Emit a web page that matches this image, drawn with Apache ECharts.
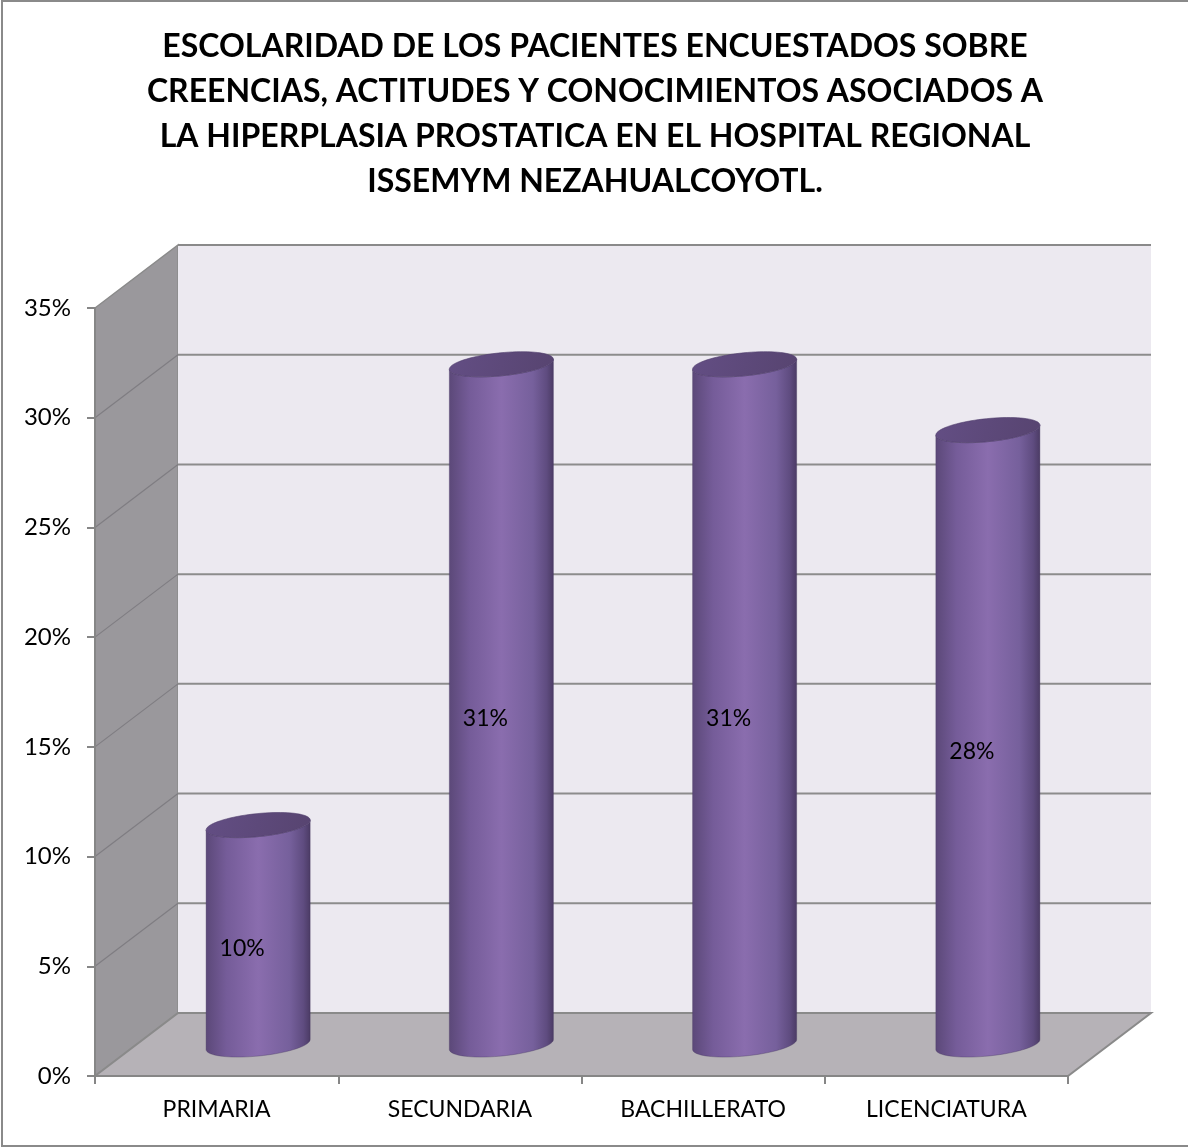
<!DOCTYPE html>
<html>
<head>
<meta charset="utf-8">
<script src="https://cdn.jsdelivr.net/npm/echarts@6/dist/echarts.min.js"></script>
<style>
  html, body { margin: 0; padding: 0; background: #ffffff; }
  #chart { width: 1188px; height: 1148px; }
</style>
</head>
<body>
<div id="chart"></div>
<script>
// ---- data ----
const titleLines = [
  'ESCOLARIDAD DE LOS PACIENTES ENCUESTADOS SOBRE',
  'CREENCIAS, ACTITUDES Y CONOCIMIENTOS ASOCIADOS A',
  'LA HIPERPLASIA PROSTATICA EN EL HOSPITAL REGIONAL',
  'ISSEMYM NEZAHUALCOYOTL.'
];
const categories = ['PRIMARIA', 'SECUNDARIA', 'BACHILLERATO', 'LICENCIATURA'];
const values = [0.10, 0.31, 0.31, 0.28];
const valueLabels = ['10%', '31%', '31%', '28%'];
const yTicks = [0, 0.05, 0.10, 0.15, 0.20, 0.25, 0.30, 0.35];

// ---- style ----
const FONT = 'Lato';
const DX = 83, DY = -63;           // 3D depth offset
const SIDE = '#9a989c', BACK = '#ece9f0', FLOOR = '#b6b2b7', EDGE = '#8a8a8a';

const chart = echarts.init(document.getElementById('chart'), null, { renderer: 'canvas' });

function renderWalls(params, api) {
  const cs = params.coordSys;
  const x0 = cs.x, x1 = cs.x + cs.width;
  const yBase = api.coord([0, 0])[1];
  const yTop = api.coord([0, yTicks[yTicks.length - 1]])[1];
  const children = [];
  children.push({ type: 'polygon', shape: { points: [[x0, yBase], [x0, yTop], [x0 + DX, yTop + DY], [x0 + DX, yBase + DY]] },
    style: { fill: SIDE, stroke: EDGE, lineWidth: 1.5 } });
  children.push({ type: 'rect', shape: { x: x0 + DX, y: yTop + DY, width: x1 - x0, height: yBase - yTop },
    style: { fill: BACK, stroke: null } });
  children.push({ type: 'line', shape: { x1: x0 + DX, y1: yTop + DY, x2: x1 + DX, y2: yTop + DY },
    style: { stroke: EDGE, lineWidth: 2 } });
  children.push({ type: 'polygon', shape: { points: [[x0, yBase], [x1, yBase], [x1 + DX, yBase + DY], [x0 + DX, yBase + DY]] },
    style: { fill: FLOOR, stroke: EDGE, lineWidth: 2 } });
  yTicks.forEach(function (v) {
    if (v === 0 || v === yTicks[yTicks.length - 1]) return;
    const y = api.coord([0, v])[1];
    children.push({ type: 'line', shape: { x1: x0, y1: y, x2: x0 + DX, y2: y + DY }, style: { stroke: '#7f7d82', lineWidth: 1.2 } });
    children.push({ type: 'line', shape: { x1: x0 + DX, y1: y + DY, x2: x1 + DX, y2: y + DY }, style: { stroke: '#8c8c8c', lineWidth: 2 } });
  });
  return { type: 'group', children: children };
}

function ellipsePts(cx, cy, rx, ry, th, t0, t1, n) {
  const pts = [];
  for (let k = 0; k <= n; k++) {
    const t = t0 + (t1 - t0) * k / n;
    const u = rx * Math.cos(t), v = ry * Math.sin(t);
    pts.push([cx + u * Math.cos(th) + v * Math.sin(th), cy - u * Math.sin(th) + v * Math.cos(th)]);
  }
  return pts;
}

function renderCylinder(params, api) {
  const idx = api.value(0);
  const val = api.value(1);
  const base = api.coord([idx, 0]);
  const top = api.coord([idx, val]);
  const bw = api.size([1, 0])[0] * 0.43;
  const cx = base[0] + DX / 2;
  const yb = base[1] + DY / 2;
  const yt = top[1] + DY / 2;
  const rx = bw / 2, ry = 11.5, th = 0.1;
  const bodyGrad = new echarts.graphic.LinearGradient(0, 0, 1, 0, [
    { offset: 0, color: '#5b4878' },
    { offset: 0.2, color: '#755c99' },
    { offset: 0.5, color: '#8a6dae' },
    { offset: 0.8, color: '#76609c' },
    { offset: 0.93, color: '#5f4c80' },
    { offset: 1, color: '#4a3a63' }
  ]);
  const bottomArc = ellipsePts(cx, yb, rx, ry, th, 0, Math.PI, 40);
  const topArc = ellipsePts(cx, yt, rx, ry, th, Math.PI, 0, 40);
  const bodyPts = bottomArc.concat(topArc);
  const topPts = ellipsePts(cx, yt, rx, ry, th, 0, 2 * Math.PI, 80);
  return {
    type: 'group',
    children: [
      { type: 'polygon', shape: { points: bodyPts }, style: { fill: bodyGrad, stroke: 'rgba(70,55,95,0.35)', lineWidth: 1 } },
      { type: 'polygon', shape: { points: topPts }, style: { fill: new echarts.graphic.LinearGradient(0, 0, 1, 1, [
          { offset: 0, color: '#634e84' }, { offset: 1, color: '#574470' }]), stroke: 'rgba(80,62,108,0.6)', lineWidth: 1 } },
      { type: 'text', style: { text: valueLabels[idx], x: cx - 16, y: (yb + yt) / 2 + 14, align: 'center', verticalAlign: 'middle',
        fontFamily: FONT, fontSize: 23, fill: '#000000' } }
    ]
  };
}

const titleGraphics = titleLines.map(function (line, i) {
  return { type: 'text', x: 595, y: 47 + i * 45, z: 50,
    style: { text: line, x: 0, y: 0, align: 'center', verticalAlign: 'middle', fontFamily: FONT, fontWeight: 'bold', fontSize: 32, fill: '#000000' } };
});

const option = {
  animation: false,
  backgroundColor: '#ffffff',
  graphic: [
    { type: 'rect', shape: { x: 2, y: 1, width: 1200, height: 1145 }, style: { fill: null, stroke: '#8a8a8a', lineWidth: 2 }, z: 100 }
  ].concat(titleGraphics),
  grid: { left: 95, right: 120, top: 308, bottom: 72, containLabel: false },
  xAxis: {
    type: 'category',
    data: categories,
    axisLine: { show: true, lineStyle: { color: '#868686', width: 2 } },
    axisTick: { show: true, length: 8, lineStyle: { color: '#868686', width: 2 } },
    axisLabel: { fontFamily: FONT, fontSize: 23, color: '#000000', margin: 22 },
    z: 10
  },
  yAxis: {
    type: 'value',
    min: 0, max: 0.35, interval: 0.05,
    axisLine: { show: true, lineStyle: { color: '#868686', width: 2 } },
    axisTick: { show: true, length: 8, lineStyle: { color: '#868686', width: 2 } },
    axisLabel: { fontFamily: FONT, fontSize: 24, color: '#000000', margin: 24,
      formatter: function (v) { return Math.round(v * 100) + '%'; } },
    splitLine: { show: false },
    z: 10
  },
  series: [
    { type: 'custom', renderItem: renderWalls, data: [[0, 0]], z: 1, silent: true, clip: false },
    { type: 'custom', renderItem: renderCylinder, data: values.map(function (v, i) { return [i, v]; }), z: 5, clip: false }
  ]
};
chart.setOption(option);
</script>
</body>
</html>
